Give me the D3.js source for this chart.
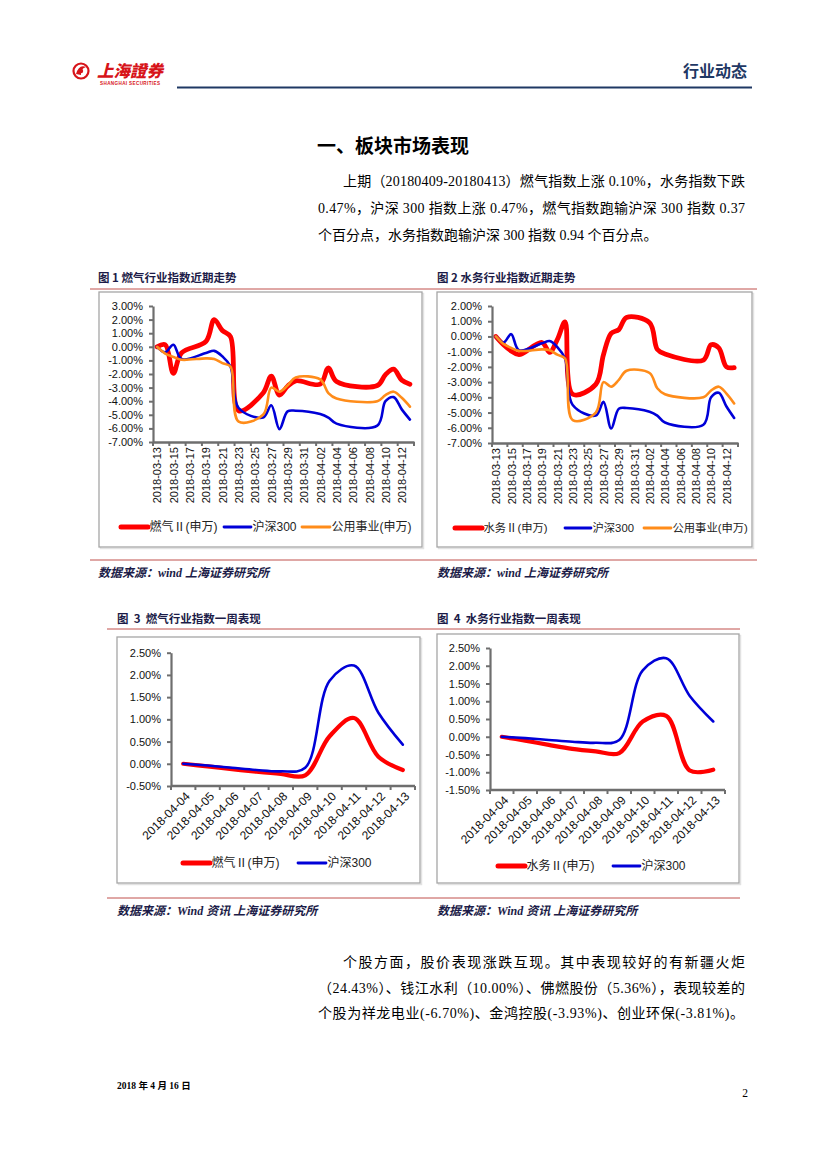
<!DOCTYPE html>
<html><head><meta charset="utf-8">
<script src="https://cdn.jsdelivr.net/npm/d3@7"></script>
<style>body{margin:0;background:#fff} svg{display:block}</style>
</head><body>
<svg id="page" width="827" height="1169"></svg>
<script>
// ---------- DATA ----------
const tradeDates = ["2018-03-13","2018-03-14","2018-03-15","2018-03-16","2018-03-19","2018-03-20","2018-03-21","2018-03-22","2018-03-23","2018-03-26","2018-03-27","2018-03-28","2018-03-29","2018-03-30","2018-04-02","2018-04-03","2018-04-04","2018-04-09","2018-04-10","2018-04-11","2018-04-12","2018-04-13"];
const gasRecent   = [0, 0.15, -1.95, -0.45, 0.4, 2.0, 1.2, 0.75, -4.7, -3.4, -2.15, -3.55, -2.9, -2.5, -2.75, -1.55, -2.55, -2.85, -2.05, -1.65, -2.45, -2.75];
const waterRecent = [0, -0.55, -0.95, -1.2, -0.4, -1.05, -0.2, 0.95, -3.8, -3.15, -1.2, 0.2, 0.45, 1.25, 0.9, -0.85, -1.15, -1.55, -0.55, -0.75, -2.0, -2.05];
const hs300Recent = [0, -0.4, 0.15, -0.9, -0.45, -0.3, -0.7, -1.45, -4.5, -5.2, -4.3, -6.05, -4.75, -4.7, -4.95, -5.2, -5.65, -5.8, -4.0, -3.7, -4.6, -5.35];
const utilRecent  = [0, -0.5, -0.75, -0.95, -0.85, -0.9, -1.2, -1.45, -5.5, -5.0, -3.0, -3.3, -2.85, -2.25, -2.4, -3.4, -3.8, -4.0, -3.55, -3.3, -3.75, -4.4];
const recentTickLabels = ["2018-03-13","2018-03-15","2018-03-17","2018-03-19","2018-03-21","2018-03-23","2018-03-25","2018-03-27","2018-03-29","2018-03-31","2018-04-02","2018-04-04","2018-04-06","2018-04-08","2018-04-10","2018-04-12"];
const yTicksGas = [3,2,1,0,-1,-2,-3,-4,-5,-6,-7];
const yTicksWater = [2,1,0,-1,-2,-3,-4,-5,-6,-7];

const weekCats  = ["2018-04-04","2018-04-05","2018-04-06","2018-04-07","2018-04-08","2018-04-09","2018-04-10","2018-04-11","2018-04-12","2018-04-13"];
const gasWeek   = [0, -0.06, -0.12, -0.18, -0.23, -0.26, 0.62, 1.03, 0.16, -0.14];
const waterWeek = [0, -0.11, -0.23, -0.34, -0.41, -0.46, 0.43, 0.59, -0.95, -0.93];
const hs300Week = [0, -0.04, -0.09, -0.14, -0.17, -0.09, 1.87, 2.21, 1.15, 0.43];
const yTicksGasWeek = [2.5,2,1.5,1,0.5,0,-0.5];
const yTicksWaterWeek = [2.5,2,1.5,1,0.5,0,-0.5,-1,-1.5];

const legendGasRecent = ["燃气Ⅱ(申万)","沪深300","公用事业(申万)"];
const legendWaterRecent = ["水务Ⅱ(申万)","沪深300","公用事业(申万)"];
const legendGasWeek = ["燃气Ⅱ(申万)","沪深300"];
const legendWaterWeek = ["水务Ⅱ(申万)","沪深300"];

// ---------- STYLE ----------
const RED = "#FF0000", BLUE = "#0000D8", ORANGE = "#FF8C1A";
const AXIS = "#6E6E6E";
const NAVY = "#1C1C48";
const SANS = "'Liberation Sans', Arial, 'Noto Sans CJK SC', sans-serif";
const LEG = "'Liberation Sans', 'Noto Sans CJK SC', sans-serif";
const CJK = "'Noto Sans CJK SC', sans-serif";
const SERIF = "'Liberation Serif', 'Noto Sans CJK SC', serif";

const svg = d3.select("#page");
const parse = d3.utcParse("%Y-%m-%d");
const fmtPct = d => d.toFixed(2) + "%";
const HALF_DAY = 43200000;

// ---------- HEADER ----------
const hdr = svg.append("g");
hdr.append("circle").attr("cx", 81).attr("cy", 71).attr("r", 7.5).attr("fill", "none").attr("stroke", "#D7141A").attr("stroke-width", 2.2);
hdr.append("path").attr("d", "M76,74 Q79,64 86,67 Q80,69 81,75 Z").attr("fill", "#D7141A");
hdr.append("circle").attr("cx", 81).attr("cy", 71).attr("r", 2.2).attr("fill", "#D7141A");
hdr.append("text").attr("x", 97).attr("y", 77).text("上海證券")
  .attr("font-family", CJK).attr("font-weight", 900).attr("font-size", 16.5).attr("fill", "#D7141A").attr("font-style", "italic");
hdr.append("text").attr("x", 100).attr("y", 85).text("SHANGHAI SECURITIES")
  .attr("font-family", SANS).attr("font-weight", 700).attr("font-size", 4.6).attr("fill", "#D7141A").attr("textLength", 60);
hdr.append("text").attr("x", 747).attr("y", 76.5).attr("text-anchor", "end").text("行业动态")
  .attr("font-family", CJK).attr("font-weight", 700).attr("font-size", 16).attr("fill", "#1F3864");
hdr.append("line").attr("x1", 177).attr("x2", 752).attr("y1", 87.5).attr("y2", 87.5).attr("stroke", "#1F3864").attr("stroke-width", 2);

// ---------- TITLE & PARAGRAPH ----------
svg.append("text").attr("x", 317).attr("y", 153).text("一、板块市场表现")
  .attr("font-family", CJK).attr("font-weight", 700).attr("font-size", 19).attr("fill", "#000");
const para1 = [
  {t: "上期（20180409-20180413）燃气指数上涨 0.10%，水务指数下跌", x: 343, y: 186, len: 402},
  {t: "0.47%，沪深 300 指数上涨 0.47%，燃气指数跑输沪深 300 指数 0.37", x: 318, y: 213, len: 427},
  {t: "个百分点，水务指数跑输沪深 300 指数 0.94 个百分点。", x: 318, y: 240, len: null}
];
const para2 = [
  {t: "个股方面，股价表现涨跌互现。其中表现较好的有新疆火炬", x: 343, y: 967, len: 402},
  {t: "（24.43%）、钱江水利（10.00%）、佛燃股份（5.36%），表现较差的", x: 318, y: 993, len: 427},
  {t: "个股为祥龙电业(-6.70%)、金鸿控股(-3.93%)、创业环保(-3.81%)。", x: 318, y: 1018, len: 426}
];
[...para1, ...para2].forEach(l => {
  const t = svg.append("text").attr("x", l.x).attr("y", l.y).text(l.t)
    .attr("font-family", SERIF).attr("font-size", 14).attr("fill", "#000");
  if (l.len) t.attr("textLength", l.len).attr("lengthAdjust", "spacing");
});

// ---------- FIGURE CAPTIONS & RULES ----------
function caption(x, y, txt) {
  svg.append("text").attr("x", x).attr("y", y).text(txt).style("white-space", "pre")
    .attr("font-family", CJK).attr("font-weight", 700).attr("font-size", 11.5).attr("fill", NAVY);
}
function rule(x1, x2, y) {
  svg.append("line").attr("x1", x1).attr("x2", x2).attr("y1", y).attr("y2", y).attr("stroke", "#C0504D").attr("stroke-width", 1);
}
function source(x, y, txt) {
  svg.append("text").attr("x", x).attr("y", y).text(txt)
    .attr("font-family", SERIF).attr("font-weight", 700)
    .attr("font-style", "italic").attr("font-size", 12).attr("fill", NAVY);
}
caption(98, 282, "图 1 燃气行业指数近期走势");
caption(437, 282, "图 2 水务行业指数近期走势");
rule(90, 757, 289);
rule(90, 757, 560);
source(98, 577, "数据来源：wind 上海证券研究所");
source(437, 577, "数据来源：wind 上海证券研究所");
caption(117, 623, "图  3  燃气行业指数一周表现");
caption(437, 623, "图  4  水务行业指数一周表现");
rule(107, 740, 629);
rule(107, 740, 898);
source(117, 915, "数据来源：Wind 资讯 上海证券研究所");
source(437, 915, "数据来源：Wind 资讯 上海证券研究所");

// ---------- FOOTER ----------
svg.append("text").attr("x", 117).attr("y", 1089).text("2018 年 4 月 16 日")
  .attr("font-family", SERIF).attr("font-weight", 700).attr("font-size", 9.5).attr("fill", "#000");
svg.append("text").attr("x", 748).attr("y", 1097).attr("text-anchor", "end").text("2")
  .attr("font-family", SERIF).attr("font-size", 11.5).attr("fill", "#000");

// ---------- HELPERS ----------
function box(x, y, w, h) {
  svg.append("rect").attr("x", x + 1.5).attr("y", y + 1.5).attr("width", w).attr("height", h)
    .attr("fill", "none").attr("stroke", "#E2E2E2").attr("stroke-width", 1.5);
  svg.append("rect").attr("x", x).attr("y", y).attr("width", w).attr("height", h)
    .attr("fill", "#fff").attr("stroke", "#A6A6A6").attr("stroke-width", 1.3);
}
function yAxis(g, y, ticks, x0) {
  const ax = g.append("g").attr("transform", `translate(${x0},0)`)
    .call(d3.axisLeft(y).tickValues(ticks).tickFormat(fmtPct).tickSize(4).tickSizeOuter(0).tickPadding(6));
  ax.select(".domain").attr("stroke", AXIS).attr("stroke-width", 2.2);
  ax.selectAll(".tick line").attr("stroke", AXIS).attr("stroke-width", 2);
  ax.selectAll(".tick text").attr("font-family", SANS).attr("font-size", 11).attr("fill", "#111");
}
function legend(g, items, yL, fs) {
  items.forEach(it => {
    g.append("line").attr("x1", it.x1).attr("x2", it.x2).attr("y1", yL).attr("y2", yL)
      .attr("stroke", it.color).attr("stroke-width", it.w).attr("stroke-linecap", "round");
    g.append("text").attr("x", it.x2 + 1.5).attr("y", yL).attr("dy", "0.36em").text(it.label)
      .attr("font-family", LEG).attr("font-size", fs).attr("fill", "#222");
  });
}

// ---------- RECENT CHARTS (Fig 1, 2) ----------
function recentChart(cfg) {
  box(cfg.box[0], cfg.box[1], cfg.box[2], cfg.box[3]);
  const g = svg.append("g");
  const x = d3.scaleUtc()
    .domain([new Date(parse("2018-03-13").getTime() - HALF_DAY), new Date(parse("2018-04-13").getTime() + HALF_DAY)])
    .range([cfg.x0, cfg.x1]);
  const y = d3.scaleLinear().domain(cfg.yDomain).range([cfg.yBot, cfg.yTop]);
  const line = d3.line().x(d => x(d.date)).y(d => y(d.v)).curve(d3.curveCatmullRom.alpha(0.5));
  cfg.series.forEach(s => {
    const pts = tradeDates.map((d, i) => ({date: parse(d), v: s.values[i]}));
    g.append("path").datum(pts).attr("d", line).attr("fill", "none")
      .attr("stroke", s.color).attr("stroke-width", s.w).attr("stroke-linejoin", "round").attr("stroke-linecap", "round");
  });
  yAxis(g, y, cfg.yTicks, cfg.x0);
  const tickDates = recentTickLabels.map(parse);
  const ax = g.append("g").attr("transform", `translate(0,${cfg.yBot})`)
    .call(d3.axisBottom(x).tickValues(tickDates).tickFormat(d3.utcFormat("%Y-%m-%d")).tickSize(0).tickSizeOuter(0));
  ax.select(".domain").attr("stroke", AXIS).attr("stroke-width", 2.4);
  ax.selectAll(".tick text").attr("transform", "rotate(-90)").attr("x", -5).attr("y", 0).attr("dy", "0.35em")
    .style("text-anchor", "end").attr("font-family", SANS).attr("font-size", 11).attr("fill", "#111");
  const bounds = tickDates.map(d => new Date(d.getTime() - HALF_DAY)).concat([new Date(parse("2018-04-13").getTime() + HALF_DAY)]);
  g.selectAll(null).data(bounds).enter().append("line")
    .attr("x1", d => x(d)).attr("x2", d => x(d)).attr("y1", cfg.yBot).attr("y2", cfg.yBot + 4)
    .attr("stroke", AXIS).attr("stroke-width", 2);
  legend(g, cfg.legend, cfg.legendY, cfg.legendFs);
}

recentChart({
  box: [99, 292, 323, 255], x0: 153, x1: 414, yTop: 306, yBot: 442, yDomain: [-7, 3], yTicks: yTicksGas,
  series: [
    {values: gasRecent, color: RED, w: 4.8},
    {values: hs300Recent, color: BLUE, w: 2.6},
    {values: utilRecent, color: ORANGE, w: 2.6}
  ],
  legendY: 527, legendFs: 12,
  legend: [
    {x1: 121, x2: 148, color: RED, w: 5, label: legendGasRecent[0]},
    {x1: 224, x2: 251, color: BLUE, w: 2.8, label: legendGasRecent[1]},
    {x1: 302, x2: 330, color: ORANGE, w: 2.8, label: legendGasRecent[2]}
  ]
});
recentChart({
  box: [437, 292, 315, 255], x0: 492, x1: 738, yTop: 306, yBot: 443, yDomain: [-7, 2], yTicks: yTicksWater,
  series: [
    {values: waterRecent, color: RED, w: 4.8},
    {values: hs300Recent, color: BLUE, w: 2.6},
    {values: utilRecent, color: ORANGE, w: 2.6}
  ],
  legendY: 528, legendFs: 11.3,
  legend: [
    {x1: 455, x2: 482, color: RED, w: 5, label: legendWaterRecent[0]},
    {x1: 565, x2: 591, color: BLUE, w: 2.8, label: legendWaterRecent[1]},
    {x1: 644, x2: 671, color: ORANGE, w: 2.8, label: legendWaterRecent[2]}
  ]
});

// ---------- WEEK CHARTS (Fig 3, 4) ----------
function weekChart(cfg) {
  box(cfg.box[0], cfg.box[1], cfg.box[2], cfg.box[3]);
  const g = svg.append("g");
  const x = d3.scaleBand().domain(weekCats).range([cfg.x0, cfg.x1]);
  const cx = d => x(d) + x.bandwidth() / 2;
  const y = d3.scaleLinear().domain(cfg.yDomain).range([cfg.yBot, cfg.yTop]);
  const line = d3.line().x(d => cx(d.c)).y(d => y(d.v)).curve(d3.curveCatmullRom.alpha(0.5));
  cfg.series.forEach(s => {
    const pts = weekCats.map((c, i) => ({c, v: s.values[i]}));
    g.append("path").datum(pts).attr("d", line).attr("fill", "none")
      .attr("stroke", s.color).attr("stroke-width", s.w).attr("stroke-linejoin", "round").attr("stroke-linecap", "round");
  });
  yAxis(g, y, cfg.yTicks, cfg.x0);
  const ax = g.append("g").attr("transform", `translate(0,${cfg.yBot})`)
    .call(d3.axisBottom(d3.scalePoint().domain(weekCats).range([cx(weekCats[0]), cx(weekCats[weekCats.length - 1])]))
      .tickSize(0).tickSizeOuter(0));
  ax.select(".domain").remove();
  g.append("line").attr("x1", cfg.x0).attr("x2", cfg.x1).attr("y1", cfg.yBot).attr("y2", cfg.yBot)
    .attr("stroke", AXIS).attr("stroke-width", 2.4);
  ax.selectAll(".tick text").attr("transform", "translate(4,8) rotate(-45)").attr("x", 0).attr("y", 0).attr("dy", "0.35em")
    .style("text-anchor", "end").attr("font-family", SANS).attr("font-size", 12).attr("fill", "#111");
  const bounds = weekCats.map(c => x(c)).concat([cfg.x1]);
  g.selectAll(null).data(bounds).enter().append("line")
    .attr("x1", d => d).attr("x2", d => d).attr("y1", cfg.yBot).attr("y2", cfg.yBot + 4)
    .attr("stroke", AXIS).attr("stroke-width", 2);
  legend(g, cfg.legend, cfg.legendY, 12);
}

weekChart({
  box: [117, 637, 303, 246], x0: 171, x1: 415, yTop: 652.7, yBot: 786, yDomain: [-0.5, 2.5], yTicks: yTicksGasWeek,
  series: [
    {values: gasWeek, color: RED, w: 4.2},
    {values: hs300Week, color: BLUE, w: 2.6}
  ],
  legendY: 863,
  legend: [
    {x1: 183, x2: 210, color: RED, w: 5, label: legendGasWeek[0]},
    {x1: 298, x2: 326, color: BLUE, w: 2.8, label: legendGasWeek[1]}
  ]
});
weekChart({
  box: [437, 634, 302, 249], x0: 490, x1: 725, yTop: 648, yBot: 790, yDomain: [-1.5, 2.5], yTicks: yTicksWaterWeek,
  series: [
    {values: waterWeek, color: RED, w: 4.2},
    {values: hs300Week, color: BLUE, w: 2.6}
  ],
  legendY: 866,
  legend: [
    {x1: 498, x2: 525, color: RED, w: 5, label: legendWaterWeek[0]},
    {x1: 613, x2: 640, color: BLUE, w: 2.8, label: legendWaterWeek[1]}
  ]
});
</script>
</body></html>
